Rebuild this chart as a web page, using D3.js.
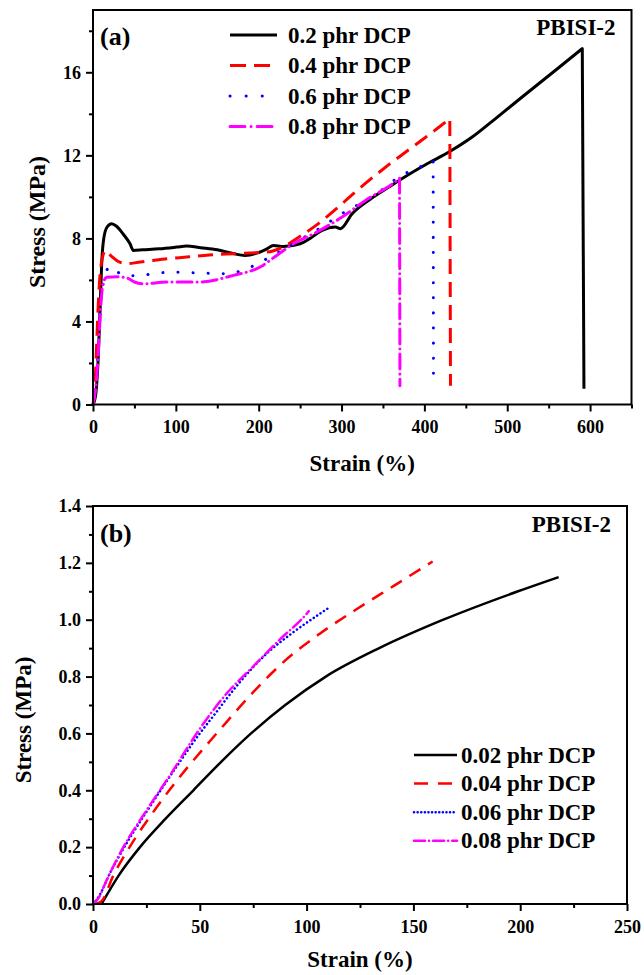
<!DOCTYPE html>
<html>
<head>
<meta charset="utf-8">
<script src="https://cdn.jsdelivr.net/npm/d3@7"></script>
<style>
body { margin: 0; background: #fff; }
</style>
</head>
<body>
<div id="drawing"></div>
<script>
"use strict"

/**** DATA ****/

// panel (a): [strain %, stress MPa], last point = fracture drop
let curveA02 = [[0,0],[3,0.4],[6,2.0],[8.5,4.5],[10.5,6.8],[13,8.0],[17,8.55],[22.5,8.71],[28,8.6],[36.6,8.2],[44.7,7.74],[48.7,7.42],[60,7.45],[80,7.5],[101,7.58],[113,7.63],[130,7.55],[150,7.45],[169,7.27],[183.6,7.18],[197.7,7.29],[210,7.5],[217.7,7.66],[229.7,7.61],[250,7.74],[262,8.0],[276.6,8.39],[292.6,8.55],[298.7,8.47],[312.8,9.19],[335,9.9],[357,10.47],[380,11.05],[405,11.63],[429.6,12.16],[457.7,12.88],[485.9,13.77],[518,14.81],[558.3,16.1],[590.6,17.14],[592.6,0.76]]
let curveA04 = [[0,0],[2,0.6],[4,2.5],[6,4.5],[8,6.0],[11,7.0],[15,7.42],[22,7.15],[30,6.9],[40.7,6.78],[55,6.85],[72.8,6.94],[90,7.02],[113,7.1],[140,7.2],[169.5,7.26],[190,7.3],[209.8,7.34],[230,7.6],[250,8.1],[270,8.65],[290,9.3],[317,10.25],[357,11.55],[389,12.5],[419,13.4],[430.7,13.77],[431.5,0.9]]
let curveA06 = [[0,0],[3,0.8],[6,2.5],[8.5,4.5],[12.5,5.9],[16,6.4],[20.5,6.65],[26,6.55],[32.6,6.3],[45,6.2],[56.8,6.22],[75,6.3],[93,6.38],[129,6.33],[161.5,6.3],[185.6,6.54],[209.8,7.02],[238,7.66],[262,8.22],[276.6,8.55],[296.6,9.1],[314.7,9.51],[337,9.99],[369,10.95],[407.4,11.68],[410.6,11.75],[411,0.83]]
let curveA08 = [[0,0],[3,0.7],[6,2.2],[9,4.5],[12,5.8],[16.5,6.13],[30,6.15],[40.7,6.1],[50,5.9],[60.7,5.81],[89,5.9],[129,5.9],[169.5,6.22],[201.7,6.62],[221.8,7.18],[242,7.74],[270,8.3],[300.7,9.03],[328.9,9.83],[367.1,10.8],[370,10.9],[370.5,0.9]]

// panel (b)
let curveB002 = [[4,0],[12,0.1],[22,0.2],[34,0.3],[47,0.4],[60,0.5],[74,0.6],[90,0.7],[109,0.8],[134,0.9],[164,1.0],[199,1.1],[218,1.15]]
let curveB004 = [[1,0],[4,0.01],[9.5,0.1],[18.8,0.22],[29.8,0.34],[42,0.46],[55,0.575],[62.5,0.64],[75,0.745],[89,0.85],[106,0.95],[123,1.035],[141,1.12],[159,1.205]]
let curveB006 = [[0,0],[3,0.03],[7.9,0.108],[15.7,0.213],[26.6,0.342],[39.1,0.483],[50,0.6],[56.2,0.66],[68.7,0.78],[81.2,0.88],[93.6,0.955],[106,1.02],[111,1.045]]
let curveB008 = [[0,0],[2.5,0.02],[6.4,0.084],[14.2,0.2],[25.1,0.33],[37.5,0.47],[48.5,0.6],[62.5,0.74],[74.9,0.835],[87.4,0.93],[99.9,1.02],[101,1.03]]

let labelsA = ["0.2 phr DCP","0.4 phr DCP","0.6 phr DCP","0.8 phr DCP"]
let labelsB = ["0.02 phr DCP","0.04 phr DCP","0.06 phr DCP","0.08 phr DCP"]

let xTicksA = [0,100,200,300,400,500,600]
let xMinorA = [50,150,250,350,450,550,650]
let yTicksA = [0,4,8,12,16]
let yMinorA = [2,6,10,14,18]

let xTicksB = [0,50,100,150,200,250]
let xMinorB = [25,75,125,175,225]
let yTicksB = [0,0.2,0.4,0.6,0.8,1.0,1.2,1.4]
let yMinorB = [0.1,0.3,0.5,0.7,0.9,1.1,1.3]


/**** STYLES ****/

let fontName = "'Liberation Serif'"
let colors = ["#000000","#ff0000","#0000ff","#ff00ff"]
let dashA = [null,"15,8","0.1,15","15,5,0.1,5"]
let dashB = [null,"13,9","0.1,4","11,4,0.1,4"]


/**** CANVAS ****/

let svgWidth = 644
let svgHeight = 975

let svg = d3.select("#drawing")
.append("svg")
.attr("width", svgWidth)
.attr("height", svgHeight)


/**** PANEL DRAWING ****/

function drawPanel(p){

let xScale = d3.scaleLinear().domain(p.xDomain).range([p.left, p.right])
let yScale = d3.scaleLinear().domain(p.yDomain).range([p.bottom, p.top])

let g = svg.append("g")

// curves (smooth body, straight fracture drop if present)
let line = d3.line()
.x(d=>xScale(d[0]))
.y(d=>yScale(d[1]))
.curve(d3.curveMonotoneX)

function curvePath(d){
    if(!p.drop) return line(d)
    let last = d[d.length-1]
    return line(d.slice(0,-1)) + "L" + xScale(last[0]) + "," + yScale(last[1])
}

g.selectAll("path.curve")
.data(p.curves)
.join("path")
.attr("class","curve")
.attr("d",curvePath)
.attr("fill","none")
.attr("stroke",(d,i)=>colors[i])
.attr("stroke-width",p.lineWidth)
.attr("stroke-dasharray",(d,i)=>p.dash[i])
.attr("stroke-linecap",(d,i)=>i>=2 ? "round" : "butt")
.attr("stroke-linejoin","round")

// x axis
g.append("g")
.attr("transform","translate(0,"+p.bottom+")")
.call(d3.axisBottom(xScale).tickValues(p.xTicks).tickSize(7).tickPadding(9).tickFormat(p.xFormat))
g.append("g")
.attr("transform","translate(0,"+p.bottom+")")
.call(d3.axisBottom(xScale).tickValues(p.xMinor).tickSize(4).tickFormat(""))

// y axis
g.append("g")
.attr("transform","translate("+p.left+",0)")
.call(d3.axisLeft(yScale).tickValues(p.yTicks).tickSize(7).tickPadding(5).tickFormat(p.yFormat))
g.append("g")
.attr("transform","translate("+p.left+",0)")
.call(d3.axisLeft(yScale).tickValues(p.yMinor).tickSize(4).tickFormat(""))

g.selectAll(".domain").remove()
g.selectAll(".tick line").attr("stroke","#000").attr("stroke-width",2)

// frame
g.append("rect")
.attr("x",p.left)
.attr("y",p.top)
.attr("width",p.right-p.left)
.attr("height",p.bottom-p.top)
.attr("fill","none")
.attr("stroke","#000")
.attr("stroke-width",2)

// panel letter and sample name
g.append("text")
.attr("x",p.left+7)
.attr("y",p.top+p.letterDy)
.style("font-size","26px")
.text(p.letter)

g.append("text")
.attr("x",p.right-16)
.attr("y",p.top+p.nameDy)
.style("font-size","23px")
.style("text-anchor","end")
.text("PBISI-2")

// axis labels
g.append("text")
.attr("x",(p.left+p.right)/2)
.attr("y",p.xLabelY)
.style("font-size","23px")
.style("text-anchor","middle")
.text("Strain (%)")

g.append("text")
.attr("transform","rotate(-90)")
.attr("x",-p.yLabelCenter)
.attr("y",p.yLabelX)
.style("font-size",p.yLabelSize)
.style("text-anchor","middle")
.text("Stress (MPa)")

// legend
let legend = g.append("g")
legend.selectAll("line")
.data(p.labels)
.join("line")
.attr("x1",p.legX1)
.attr("x2",p.legX2)
.attr("y1",(d,i)=>p.legY+i*p.legStep)
.attr("y2",(d,i)=>p.legY+i*p.legStep)
.attr("stroke",(d,i)=>colors[i])
.attr("stroke-width",p.lineWidth)
.attr("stroke-dasharray",(d,i)=>p.legDash[i])
.attr("stroke-linecap",(d,i)=>i>=2 ? "round" : "butt")

legend.selectAll("text")
.data(p.labels)
.join("text")
.attr("x",p.legTextX)
.attr("y",(d,i)=>p.legY+i*p.legStep+7.5)
.style("font-size","23px")
.text(d=>d)

// common text style
g.selectAll("text")
.attr("font-family",null)
.style("font-family",fontName)
.style("font-weight","bold")
.attr("fill","#000")
g.selectAll(".tick text").style("font-size","18px")
}


/**** PANEL (a) ****/

drawPanel({
left:93, right:631.5, top:10, bottom:404.5,
xDomain:[0,650], yDomain:[0,19],
xTicks:xTicksA, xMinor:xMinorA, yTicks:yTicksA, yMinor:yMinorA,
xFormat:d3.format("d"), yFormat:d3.format("d"),
curves:[curveA02,curveA04,curveA06,curveA08], drop:true,
dash:dashA, lineWidth:3,
letter:"(a)", letterDy:35, nameDy:25,
xLabelY:471, yLabelCenter:222, yLabelX:45, yLabelSize:"24px",
labels:labelsA, legX1:230, legX2:277, legY:35, legStep:30.5, legTextX:288,
legDash:[null,"16,8","0.1,16","15,6,0.1,6"]
})


/**** PANEL (b) ****/

drawPanel({
left:93, right:627, top:506, bottom:904,
xDomain:[0,250], yDomain:[0,1.4],
xTicks:xTicksB, xMinor:xMinorB, yTicks:yTicksB, yMinor:yMinorB,
xFormat:d3.format("d"), yFormat:d3.format(".1f"),
curves:[curveB002,curveB004,curveB006,curveB008], drop:false,
dash:dashB, lineWidth:2.5,
letter:"(b)", letterDy:36, nameDy:26,
xLabelY:967, yLabelCenter:720, yLabelX:31, yLabelSize:"23px",
labels:labelsB, legX1:414, legX2:457, legY:755, legStep:28.6, legTextX:461,
legDash:[null,"14,10","0.1,3.5","11,4,0.1,4"]
})
</script>
</body>
</html>
